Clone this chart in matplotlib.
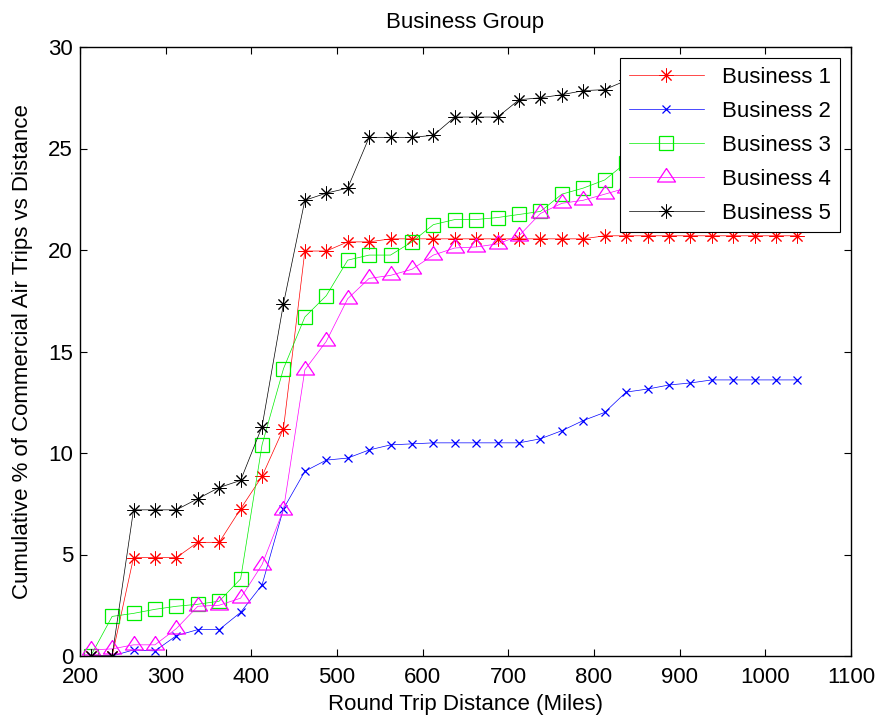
import matplotlib
matplotlib.use("Agg")
import matplotlib.pyplot as plt

plt.rcParams["font.family"] = ["Liberation Sans", "DejaVu Sans"]

# 25-mile bin centres
distance = [212.5, 237.5, 262.5, 287.5, 312.5, 337.5, 362.5, 387.5, 412.5,
            437.5, 462.5, 487.5, 512.5, 537.5, 562.5, 587.5, 612.5, 637.5,
            662.5, 687.5, 712.5, 737.5, 762.5, 787.5, 812.5, 837.5, 862.5,
            887.5, 912.5, 937.5, 962.5, 987.5, 1012.5, 1037.5]

business_1 = [0.0, 0.0, 4.85, 4.85, 4.85, 5.6, 5.6, 7.25, 8.85, 11.2,
              19.95, 19.95, 20.4, 20.4, 20.55, 20.55, 20.55, 20.55, 20.55, 20.55,
              20.55, 20.55, 20.55, 20.55, 20.7, 20.7, 20.7, 20.7, 20.7, 20.7,
              20.7, 20.7, 20.7, 20.7]
business_2 = [0.0, 0.0, 0.3, 0.25, 1.0, 1.3, 1.3, 2.15, 3.5, 7.25,
              9.1, 9.65, 9.75, 10.15, 10.4, 10.45, 10.5, 10.5, 10.5, 10.5,
              10.5, 10.7, 11.1, 11.6, 12.0, 13.0, 13.15, 13.35, 13.45, 13.6,
              13.6, 13.6, 13.6, 13.6]
business_3 = [0.0, 1.95, 2.1, 2.3, 2.45, 2.55, 2.7, 3.8, 10.4, 14.15,
              16.7, 17.75, 19.5, 19.75, 19.75, 20.4, 21.25, 21.5, 21.5, 21.6,
              21.75, 21.9, 22.75, 23.05, 23.45, 24.3, 24.6, 24.85, 25.05, 25.25,
              25.4, 25.5, 25.55, 25.6]
business_4 = [0.3, 0.35, 0.55, 0.55, 1.35, 2.45, 2.5, 2.85, 4.5, 7.2,
              14.1, 15.5, 17.6, 18.6, 18.75, 19.05, 19.75, 20.1, 20.15, 20.3,
              20.7, 21.8, 22.3, 22.45, 22.75, 23.05, 23.35, 23.6, 23.8, 23.95,
              24.1, 24.2, 24.25, 24.3]
business_5 = [0.0, 0.0, 7.2, 7.2, 7.2, 7.75, 8.3, 8.65, 11.3, 17.35,
              22.45, 22.8, 23.05, 25.55, 25.55, 25.55, 25.65, 26.55, 26.55, 26.55,
              27.4, 27.5, 27.65, 27.85, 27.9, 28.35, 28.5, 28.6, 28.7, 28.8,
              28.9, 28.95, 29.0, 29.0]

labels = ["Business 1", "Business 2", "Business 3", "Business 4", "Business 5"]
series = [business_1, business_2, business_3, business_4, business_5]

# asterisk = plus + cross, triangle centred on its centroid
asterisk = (8, 2, 0)
triangle = [(0.0, 0.62), (-0.62, -0.31), (0.62, -0.31), (0.0, 0.62)]
styles = [
    dict(color="#ff0000", marker=asterisk, ms=10, mew=0.7),
    dict(color="#0000ff", marker="x", ms=6, mew=0.9),
    dict(color="#00ee00", marker="s", ms=10, mew=0.9, mfc="none"),
    dict(color="#ff00ff", marker=triangle, ms=13, mew=0.9, mfc="none"),
    dict(color="#000000", marker=asterisk, ms=10, mew=0.7),
]

fig = plt.figure(figsize=(8.8, 7.22), dpi=100)
ax = fig.add_axes([80 / 880, 66 / 722, 771 / 880, 609 / 722])

for ys, lab, st in zip(series, labels, styles):
    ax.plot(distance, ys, lw=0.5, label=lab, **st)

ax.set_xlim(200, 1100)
ax.set_ylim(0, 30)
ax.set_xticks(range(200, 1101, 100))
ax.set_yticks(range(0, 31, 5))
ax.tick_params(direction="in", top=True, right=True, length=5, width=0.8,
               labelsize=16)
ax.tick_params(axis="x", pad=8)
ax.tick_params(axis="y", pad=5)
for sp in ax.spines.values():
    sp.set_linewidth(1.0)
    sp.set_color("black")

ax.set_title("Business Group", fontsize=16, pad=14)
ax.set_xlabel("Round Trip Distance (Miles)", fontsize=16, labelpad=4)
ax.set_ylabel("Cumulative % of Commercial Air Trips vs Distance", fontsize=16,
              labelpad=11)

leg = ax.legend(loc="upper right", fontsize=16, fancybox=False,
                edgecolor="black", framealpha=1, handlelength=3.4,
                labelspacing=0.58, borderaxespad=0.5, borderpad=0.4)
leg.get_frame().set_linewidth(0.8)

fig.savefig("out.png", dpi=100)
